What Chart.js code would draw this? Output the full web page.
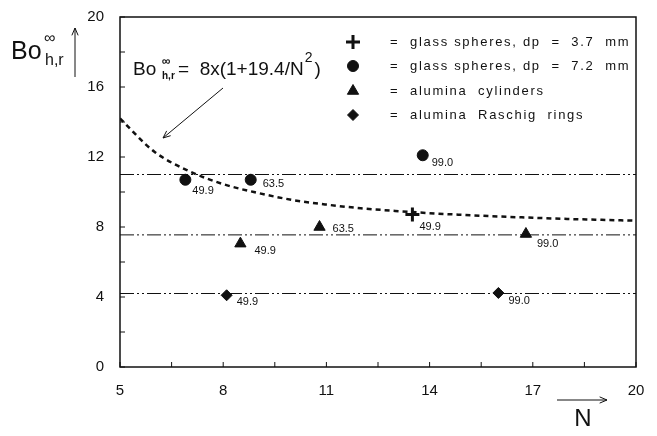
<!DOCTYPE html>
<html>
<head>
<meta charset="utf-8">
<script src="https://cdn.jsdelivr.net/npm/chart.js@4"></script>
<style>
  html, body { margin: 0; padding: 0; background: #fff; }
  canvas { display: block; }
</style>
</head>
<body>
<canvas id="boChart" width="657" height="436"></canvas>
<script>
// Heat transfer Bodenstein number vs. tube/particle diameter ratio N

// fitted correlation
const curveN = [5, 6, 7, 8, 9, 10, 11, 12, 13, 14, 15, 16, 17, 18, 19, 20];
const curveBo = [14.2, 12.3, 11.2, 10.45, 9.95, 9.55, 9.28, 9.07, 8.92, 8.79, 8.69, 8.6, 8.53, 8.46, 8.41, 8.36];

// asymptotic levels (dash-dot lines)
const levelBo = [11.0, 7.55, 4.2];

// measurements, one array per packing
const spheres37N = [13.5];
const spheres37Bo = [8.72];
const spheres37Re = ['49.9'];

const spheres72N = [6.9, 8.8, 13.8];
const spheres72Bo = [10.7, 10.7, 12.1];
const spheres72Re = ['49.9', '63.5', '99.0'];

const cylindersN = [8.5, 10.8, 16.8];
const cylindersBo = [7.05, 8.0, 7.6];
const cylindersRe = ['49.9', '63.5', '99.0'];

const ringsN = [8.1, 16.0];
const ringsBo = [4.1, 4.23];
const ringsRe = ['49.9', '99.0'];

const legendLabels = [
    'glass spheres, dp  =  3.7  mm',
    'glass spheres, dp  =  7.2  mm',
    'alumina  cylinders',
    'alumina  Raschig  rings'
];

// little nudges so the Re labels sit beside their markers
const labelShift = {
    spheres37: [[7, 13]],
    spheres72: [[7, 11], [12, 4], [9, 8]],
    cylinders: [[14, 7], [13, 2], [11, 10]],
    rings: [[10, 7], [10, 8]]
};

const FONT = '"Liberation Sans", Arial, sans-serif';
const INK = '#111';

function pts(xs, ys) {
    return xs.map((x, i) => ({ x: x, y: ys[i] }));
}

function levelLine(bo) {
    return {
        type: 'line',
        data: [{ x: 5, y: bo }, { x: 20, y: bo }],
        borderColor: INK,
        borderWidth: 1,
        borderDash: [14, 3, 2, 3, 2, 3],
        pointRadius: 0,
        showLine: true
    };
}

function markerSet(key, xs, ys, labels, style, radius, width) {
    return {
        key: key,
        reLabels: labels,
        data: pts(xs, ys),
        pointStyle: style,
        pointRadius: radius,
        pointBorderWidth: width,
        backgroundColor: INK,
        borderColor: INK,
        showLine: false
    };
}

const markerSets = [
    markerSet('spheres37', spheres37N, spheres37Bo, spheres37Re, 'cross', 7, 3),
    markerSet('spheres72', spheres72N, spheres72Bo, spheres72Re, 'circle', 5.5, 1),
    markerSet('cylinders', cylindersN, cylindersBo, cylindersRe, 'triangle', 6.5, 1),
    markerSet('rings', ringsN, ringsBo, ringsRe, 'rectRot', 5.5, 1)
];

const datasets = [
    {
        type: 'line',
        data: pts(curveN, curveBo),
        borderColor: INK,
        borderWidth: 2.5,
        borderDash: [5, 4],
        pointRadius: 0,
        cubicInterpolationMode: 'monotone',
        showLine: true
    },
    ...levelBo.map(levelLine),
    ...markerSets
];

// frame, inward ticks, Re labels, legend and axis titles
const decorations = {
    id: 'decorations',
    afterDraw(chart) {
        const ctx = chart.ctx;
        const area = chart.chartArea;
        const xs = chart.scales.x;
        const ys = chart.scales.y;
        ctx.save();
        ctx.strokeStyle = INK;
        ctx.fillStyle = INK;

        // box
        ctx.lineWidth = 1.5;
        ctx.strokeRect(area.left, area.top, area.right - area.left, area.bottom - area.top);

        // ticks pointing into the plot
        ctx.lineWidth = 1;
        for (let v = 5; v <= 20.01; v += 1.5) {
            const px = xs.getPixelForValue(v);
            ctx.beginPath();
            ctx.moveTo(px, area.bottom);
            ctx.lineTo(px, area.bottom - 5);
            ctx.stroke();
        }
        for (let v = 0; v <= 20; v += 2) {
            const py = ys.getPixelForValue(v);
            ctx.beginPath();
            ctx.moveTo(area.left, py);
            ctx.lineTo(area.left + 5, py);
            ctx.stroke();
        }

        // Re values next to each marker
        ctx.font = '11px ' + FONT;
        ctx.textAlign = 'left';
        ctx.textBaseline = 'middle';
        chart.data.datasets.forEach((ds, di) => {
            if (!ds.reLabels) return;
            const meta = chart.getDatasetMeta(di);
            meta.data.forEach((el, i) => {
                const s = labelShift[ds.key][i];
                ctx.fillText(ds.reLabels[i], el.x + s[0], el.y + s[1]);
            });
        });

        // legend inside the plot
        const rowY = [42, 66, 91, 115];
        ctx.font = '13px ' + FONT;
        markerSets.forEach((ds, i) => {
            ctx.lineWidth = ds.pointBorderWidth;
            Chart.helpers.drawPoint(ctx, {
                pointStyle: ds.pointStyle,
                radius: ds.pointRadius,
                borderWidth: ds.pointBorderWidth
            }, 353, rowY[i]);
            ctx.letterSpacing = '1.7px';
            ctx.fillText('=', 390, rowY[i]);
            ctx.fillText(legendLabels[i], 410, rowY[i]);
            ctx.letterSpacing = '0px';
        });
        ctx.lineWidth = 1;

        // correlation written above the curve
        ctx.font = '19px ' + FONT;
        ctx.fillText('Bo', 133, 70);
        ctx.font = 'bold 12px ' + FONT;
        ctx.fillText('\u221E', 162, 62);
        ctx.font = 'bold 10px ' + FONT;
        ctx.fillText('h,r', 162, 76);
        ctx.font = '19px ' + FONT;
        const body = '=  8x(1+19.4/N';
        ctx.fillText(body, 178, 70);
        let cx = 178 + ctx.measureText(body).width + 1;
        ctx.font = '14px ' + FONT;
        ctx.fillText('2', cx, 58);
        cx += ctx.measureText('2').width + 2;
        ctx.font = '19px ' + FONT;
        ctx.fillText(')', cx, 70);

        // arrow from the text down to the curve
        ctx.beginPath();
        ctx.moveTo(223, 88);
        ctx.lineTo(163, 138);
        ctx.stroke();
        drawHead(ctx, 223, 88, 163, 138);

        // y axis title with upward arrow
        ctx.font = '25px ' + FONT;
        ctx.fillText('Bo', 11, 52);
        ctx.font = '16px ' + FONT;
        ctx.fillText('\u221E', 44, 39);
        ctx.fillText('h,r', 45, 61);
        ctx.beginPath();
        ctx.moveTo(75, 77);
        ctx.lineTo(75, 28);
        ctx.stroke();
        drawHead(ctx, 75, 77, 75, 28);

        // x axis title with arrow
        ctx.beginPath();
        ctx.moveTo(557, 400);
        ctx.lineTo(607, 400);
        ctx.stroke();
        drawHead(ctx, 557, 400, 607, 400);
        ctx.font = '24px ' + FONT;
        ctx.textAlign = 'center';
        ctx.fillText('N', 583, 419);

        ctx.restore();
    }
};

function drawHead(ctx, x0, y0, x1, y1) {
    const a = Math.atan2(y1 - y0, x1 - x0);
    const len = 8;
    ctx.beginPath();
    ctx.moveTo(x1 - len * Math.cos(a - 0.4), y1 - len * Math.sin(a - 0.4));
    ctx.lineTo(x1, y1);
    ctx.lineTo(x1 - len * Math.cos(a + 0.4), y1 - len * Math.sin(a + 0.4));
    ctx.stroke();
}

const ctx = document.getElementById('boChart').getContext('2d');
new Chart(ctx, {
    type: 'scatter',
    data: { datasets: datasets },
    plugins: [decorations],
    options: {
        responsive: false,
        animation: false,
        devicePixelRatio: 1,
        layout: { padding: { top: 16, right: 21, left: 0, bottom: 0 } },
        plugins: {
            legend: { display: false },
            tooltip: { enabled: false }
        },
        scales: {
            x: {
                type: 'linear',
                min: 5,
                max: 20,
                grid: { display: false },
                border: { display: false },
                ticks: {
                    stepSize: 3,
                    padding: 7,
                    color: INK,
                    font: { family: FONT, size: 15 }
                },
                afterFit(scale) { scale.height = 436 - 367; }
            },
            y: {
                type: 'linear',
                min: 0,
                max: 20,
                grid: { display: false },
                border: { display: false },
                ticks: {
                    stepSize: 4,
                    padding: 8,
                    color: INK,
                    font: { family: FONT, size: 15 }
                },
                afterFit(scale) { scale.width = 120; }
            }
        }
    }
});
</script>
</body>
</html>
